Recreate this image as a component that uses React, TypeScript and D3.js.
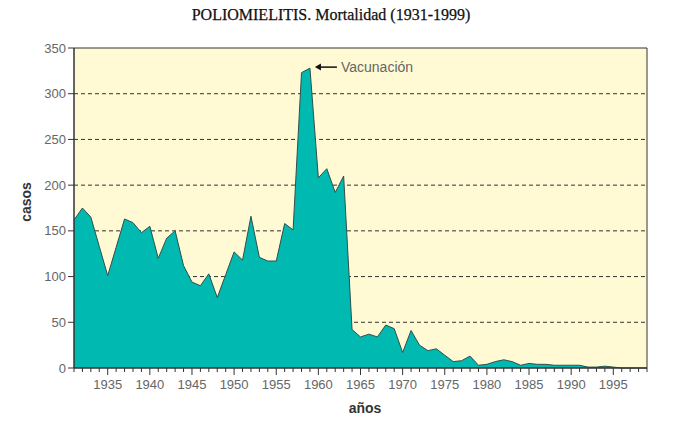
import * as React from "react";
import * as d3 from "d3";

const years = d3.range(1931, 2000);
// deaths per year, 1931..1999
const deaths = [
	162, 175, 165, 133, 101, 132, 163, 159, 148, 155,
	120, 142, 150, 112, 94, 90, 103, 77, 102, 127,
	118, 166, 121, 117, 117, 158, 151, 323, 328, 208,
	218, 192, 210, 42, 34, 37, 34, 47, 43, 17,
	41, 25, 19, 21, 14, 7, 8, 13, 3, 4,
	7, 9, 7, 3, 5, 4, 4, 3, 3, 3,
	3, 1, 1, 2, 1, 0, 0, 0, 0,
];
const yTicks = [0, 50, 100, 150, 200, 250, 300, 350];
const xLabelYears = [1935, 1940, 1945, 1950, 1955, 1960, 1965, 1970, 1975, 1980, 1985, 1990, 1995];
const gridValues = [50, 100, 150, 200, 250, 300];
const title = "POLIOMIELITIS. Mortalidad (1931-1999)";
const annotation = { year: 1959, value: 328, text: "Vacunación" };

const width = 674;
const height = 423;
const margin = { top: 48, right: 27, bottom: 55, left: 74 };
const tickFont = "'Liberation Sans', Arial, sans-serif";

export default function App() {
	const plotW = width - margin.left - margin.right;
	const plotH = height - margin.top - margin.bottom;

	const x = d3.scaleLinear().domain([1931, 1999]).range([0, plotW]);
	const y = d3.scaleLinear().domain([0, 350]).range([plotH, 0]);

	const area = d3
		.area<number>()
		.x((_, i) => x(years[i]))
		.y0(y(0))
		.y1((d) => y(d));
	const line = d3
		.line<number>()
		.x((_, i) => x(years[i]))
		.y((d) => y(d));

	const ax = x(annotation.year);
	const ay = y(annotation.value);

	return (
		<svg
			width={width}
			height={height}
			style={{ position: "absolute", left: 0, top: 0, background: "white" }}
		>
			<text
				x={331}
				y={20}
				textAnchor="middle"
				fontFamily="'Liberation Serif', serif"
				fontSize={16}
				fill="#111"
				stroke="#111"
				strokeWidth={0.25}
			>
				{title}
			</text>
			<g transform={`translate(${margin.left},${margin.top})`}>
				<rect width={plotW} height={plotH} fill="#fffad4" />
				{gridValues.map((v) => (
					<line
						key={v}
						x1={0}
						x2={plotW}
						y1={y(v)}
						y2={y(v)}
						stroke="#333"
						strokeDasharray="4,3"
						strokeWidth={1}
					/>
				))}
				<path d={area(deaths)!} fill="#00b9b1" />
				<path d={line(deaths)!} fill="none" stroke="#2f4f4c" strokeWidth={1} />
				{/* frame */}
				<line x1={0} x2={plotW} y1={0} y2={0} stroke="#333" />
				<line x1={plotW} x2={plotW} y1={0} y2={plotH} stroke="#333" />
				<line x1={0} x2={0} y1={0} y2={plotH} stroke="#333" strokeWidth={1.5} />
				<line x1={0} x2={plotW} y1={plotH} y2={plotH} stroke="#333" strokeWidth={1.5} />
				{/* y ticks */}
				{yTicks.map((v) => (
					<g key={v} transform={`translate(0,${y(v)})`}>
						<line x1={-6} x2={0} stroke="#333" />
						<text
							x={-8}
							dy="0.35em"
							textAnchor="end"
							fontFamily={tickFont}
							fontSize={13}
							fill="#666"
						>
							{v}
						</text>
					</g>
				))}
				{/* x ticks */}
				{years.map((yr) => (
					<line
						key={yr}
						x1={x(yr)}
						x2={x(yr)}
						y1={plotH}
						y2={plotH + (yr % 5 === 0 ? 7 : 4)}
						stroke="#333"
					/>
				))}
				{xLabelYears.map((yr) => (
					<text
						key={yr}
						x={x(yr)}
						y={plotH + 21}
						textAnchor="middle"
						fontFamily={tickFont}
						fontSize={13}
						fill="#666"
					>
						{yr}
					</text>
				))}
				{/* annotation */}
				<line x1={ax + 7} x2={ax + 27} y1={ay - 1} y2={ay - 1} stroke="#111" strokeWidth={1.5} />
				<path d={`M${ax + 5},${ay - 1} l6,-3.5 l0,7 z`} fill="#111" />
				<text
					x={ax + 31}
					y={ay + 4}
					fontFamily={tickFont}
					fontSize={14}
					fill="#666"
				>
					{annotation.text}
				</text>
			</g>
			<text
				transform={`translate(31,${margin.top + plotH / 2 - 6}) rotate(-90)`}
				textAnchor="middle"
				fontFamily={tickFont}
				fontWeight="bold"
				fontSize={14}
				fill="#333"
			>
				casos
			</text>
			<text
				x={365}
				y={413}
				textAnchor="middle"
				fontFamily={tickFont}
				fontWeight="bold"
				fontSize={14}
				fill="#333"
			>
				años
			</text>
		</svg>
	);
}
